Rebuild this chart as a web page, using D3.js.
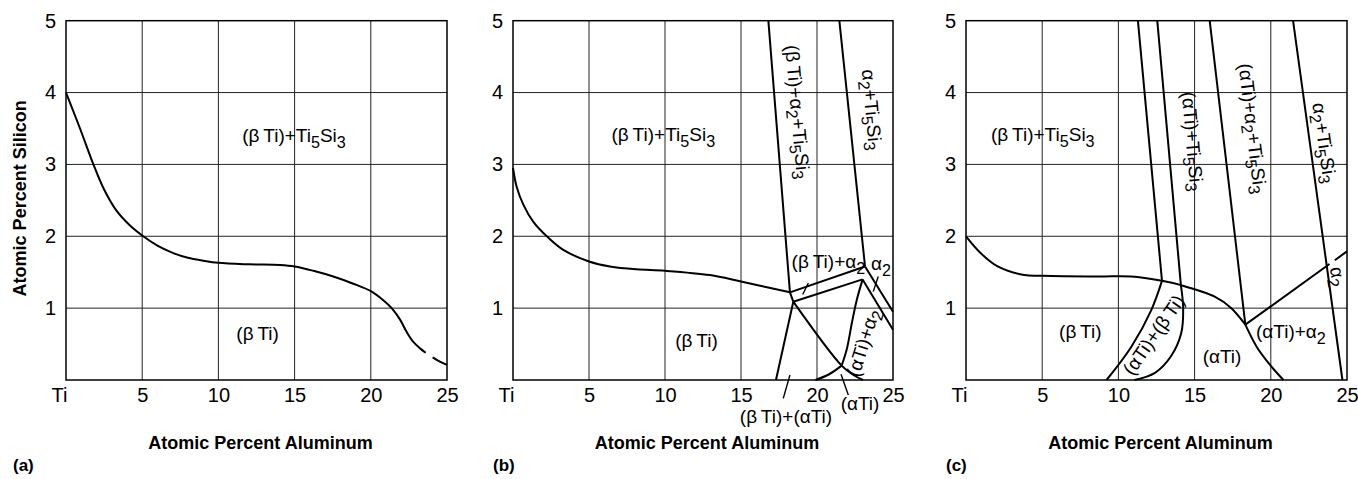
<!DOCTYPE html>
<html>
<head>
<meta charset="utf-8">
<script src="https://cdn.jsdelivr.net/npm/d3@7"></script>
<style>
  body { margin: 0; background: #fff; }
  svg { display: block; font-family: "Liberation Sans", Arial, sans-serif; }
</style>
</head>
<body>
<div id="chart"></div>
<script>
// axis values
const xTicks = [0, 5, 10, 15, 20, 25];
const xTickLabels = ["Ti", "5", "10", "15", "20", "25"];
const yTicks = [1, 2, 3, 4, 5];
const xTitle = "Atomic Percent Aluminum";
const yTitle = "Atomic Percent Silicon";

// phase boundaries, [Al at.%, Si at.%]
const panelA_lines = [
  { smooth: true, pts: [[0, 4.0], [0.92, 3.5], [1.8, 3.0], [2.5, 2.65], [3.3, 2.36], [4.2, 2.15], [5.07, 2.0],
    [6, 1.87], [7, 1.77], [8, 1.70], [9, 1.66], [10, 1.63], [12, 1.61], [14.04, 1.60], [15, 1.58],
    [16.23, 1.52], [17.54, 1.44], [18.85, 1.34], [20.06, 1.23], [20.82, 1.11], [21.37, 1.0], [21.92, 0.84],
    [22.35, 0.67], [22.79, 0.53], [23.23, 0.44], [23.6, 0.38]] },
  { smooth: true, pts: [[24.06, 0.316], [24.5, 0.26], [25, 0.21]] }
];

const panelB_lines = [
  { smooth: true, pts: [[0, 2.95], [0.24, 2.69], [0.68, 2.44], [1.34, 2.20], [2.22, 2.0], [3.31, 1.81], [5.0, 1.65],
    [6.38, 1.58], [8.14, 1.54], [10, 1.52], [12.96, 1.46], [15, 1.37], [18.22, 1.22]] },
  { pts: [[16.8, 5], [18.22, 1.22], [18.44, 1.09]] },
  { pts: [[21.47, 5], [23.16, 1.58]] },
  { pts: [[18.22, 1.22], [23.16, 1.58]] },
  { pts: [[18.44, 1.09], [23.0, 1.40]] },
  { pts: [[23.16, 1.58], [25, 0.95]] },
  { pts: [[23.0, 1.40], [25, 0.70]] },
  { smooth: true, pts: [[23.0, 1.40], [22.6, 1.1], [22.3, 0.8], [21.95, 0.42], [21.62, 0.2]] },
  { smooth: true, pts: [[18.44, 1.09], [21.62, 0.2], [22.4, 0.07], [23.03, 0]] },
  { pts: [[18.44, 1.09], [17.3, 0]] },
  { smooth: true, pts: [[19.9, 0], [20.8, 0.08], [21.62, 0.2]] }
];
const panelB_leaders = [
  [[17.78, -0.255], [18.22, 0.07]],
  [[22.06, -0.21], [21.58, 0.08]],
  [[19.43, 1.35], [19.06, 1.19]],
  [[24.03, 1.44], [23.7, 1.23]]
];

const panelC_lines = [
  { smooth: true, pts: [[0, 2.0], [0.99, 1.76], [2.08, 1.58], [3.83, 1.46], [4.97, 1.45], [8.65, 1.44], [10.84, 1.44],
    [12.86, 1.38], [14.1, 1.32], [16.32, 1.16], [17.41, 1.0], [18.33, 0.77]] },
  { pts: [[18.33, 0.77], [23.85, 1.614]] },
  { pts: [[24.2, 1.667], [25, 1.79]] },
  { smooth: true, pts: [[18.33, 0.77], [19.08, 0.46], [19.95, 0.21], [20.83, 0]] },
  { pts: [[11.28, 5], [12.86, 1.38]] },
  { pts: [[12.55, 5], [14.1, 1.32]] },
  { smooth: true, pts: [[14.1, 1.32], [14.25, 1.0], [14.12, 0.65], [13.45, 0.33], [12.4, 0.1], [11.05, 0]] },
  { smooth: true, pts: [[9.22, 0], [10.84, 0.46], [12.15, 0.97], [12.86, 1.38]] },
  { pts: [[15.99, 5], [18.33, 0.77]] },
  { pts: [[21.46, 5], [24.7, 0]] }
];

// phase field names ("_x" = subscript)
const panelA_labels = [
  { text: "(β\u2009Ti)+Ti_5Si_3", x: 14.96, y: 3.31 },
  { text: "(β\u2009Ti)", x: 12.57, y: 0.56 }
];
const panelB_labels = [
  { text: "(β\u2009Ti)+Ti_5Si_3", x: 9.89, y: 3.32 },
  { text: "(β\u2009Ti)", x: 12.07, y: 0.46 },
  { text: "(β\u2009Ti)+α_2+Ti_5Si_3", x: 18.75, y: 3.73, angle: 85 },
  { text: "α_2+Ti_5Si_3", x: 23.64, y: 3.76, angle: 85 },
  { text: "(β\u2009Ti)+α_2", x: 20.75, y: 1.56 },
  { text: "α_2", x: 24.21, y: 1.53 },
  { text: "(αTi)+α_2", x: 23.0, y: 0.52, angle: -72.5 },
  { text: "(β\u2009Ti)+(αTi)", x: 17.96, y: -0.6 },
  { text: "(αTi)", x: 22.83, y: -0.42 }
];
const panelC_labels = [
  { text: "(β\u2009Ti)+Ti_5Si_3", x: 5.04, y: 3.32 },
  { text: "(β\u2009Ti)", x: 7.5, y: 0.585 },
  { text: "(αTi)", x: 16.8, y: 0.24 },
  { text: "(αTi)+α_2", x: 21.32, y: 0.58 },
  { text: "(αTi)+(β\u2009Ti)", x: 12.29, y: 0.63, angle: -55 },
  { text: "(αTi)+Ti_5Si_3", x: 14.9, y: 3.32, angle: 85 },
  { text: "(αTi)+α_2+Ti_5Si_3", x: 18.84, y: 3.5, angle: 83.3 },
  { text: "α_2+Ti_5Si_3", x: 23.55, y: 3.3, angle: 82 },
  { text: "α_2", x: 24.44, y: 1.44, angle: 80 }
];

const width = 1358, height = 479;
const plotTop = 20.7, plotBottom = 380;

const panels = [
  { tag: "(a)", left: 66, right: 447, tagX: 13, lines: panelA_lines, labels: panelA_labels, leaders: [], yTitle: true },
  { tag: "(b)", left: 513, right: 893, tagX: 493, lines: panelB_lines, labels: panelB_labels, leaders: panelB_leaders },
  { tag: "(c)", left: 966, right: 1347, tagX: 946, lines: panelC_lines, labels: panelC_labels, leaders: [] }
];

const svg = d3.select("#chart").append("svg")
  .attr("width", width)
  .attr("height", height)
  .attr("viewBox", `0 0 ${width} ${height}`);

svg.append("rect").attr("width", width).attr("height", height).attr("fill", "#fff");

function addLabel(g, x, y, lab) {
  const fs = 19, sub = fs * 0.3;
  const t = g.append("text")
    .attr("transform", `translate(${x(lab.x)},${y(lab.y)}) rotate(${lab.angle || 0})`)
    .attr("text-anchor", "middle")
    .attr("font-size", fs)
    .attr("fill", "#000");
  if (lab.angle) t.attr("dominant-baseline", "central");
  let prev = 0;
  lab.text.split(/(_.)/).forEach(p => {
    if (!p) return;
    const isSub = p[0] === "_";
    const shift = isSub ? sub : 0;
    t.append("tspan")
      .attr("dy", shift - prev)
      .attr("font-size", isSub ? fs * 0.85 : null)
      .text(isSub ? p[1] : p);
    prev = shift;
  });
}

panels.forEach(p => {
  const x = d3.scaleLinear().domain([0, 25]).range([p.left, p.right]);
  const y = d3.scaleLinear().domain([0, 5]).range([plotBottom, plotTop]);
  const g = svg.append("g");

  // grid
  g.selectAll(".vgrid").data(xTicks.slice(1, -1)).join("line")
    .attr("x1", d => x(d)).attr("x2", d => x(d))
    .attr("y1", y(0)).attr("y2", y(5))
    .attr("stroke", "#222").attr("stroke-width", 1);
  g.selectAll(".hgrid").data(yTicks.slice(0, -1)).join("line")
    .attr("x1", x(0)).attr("x2", x(25))
    .attr("y1", d => y(d)).attr("y2", d => y(d))
    .attr("stroke", "#222").attr("stroke-width", 1);

  g.append("rect")
    .attr("x", x(0)).attr("y", y(5))
    .attr("width", x(25) - x(0)).attr("height", y(0) - y(5))
    .attr("fill", "none").attr("stroke", "#000").attr("stroke-width", 1.5);

  // axes
  const xa = g.append("g")
    .attr("transform", `translate(0,${plotBottom})`)
    .call(d3.axisBottom(x).tickValues(xTicks).tickFormat((d, i) => xTickLabels[i]).tickSize(0).tickPadding(8))
    .attr("font-size", 20).attr("font-family", null);
  xa.select(".domain").remove();
  xa.selectAll(".tick text").filter(d => d === 0).attr("text-anchor", "end").attr("x", 1);

  const ya = g.append("g")
    .attr("transform", `translate(${p.left},0)`)
    .call(d3.axisLeft(y).tickValues(yTicks).tickFormat(d3.format("d")).tickSize(0).tickPadding(10))
    .attr("font-size", 20).attr("font-family", null);
  ya.select(".domain").remove();

  // boundaries
  const line = d3.line().x(d => x(d[0])).y(d => y(d[1]));
  const smoothLine = d3.line().x(d => x(d[0])).y(d => y(d[1])).curve(d3.curveCatmullRom.alpha(0.5));
  g.selectAll(".bound").data(p.lines).join("path")
    .attr("d", d => (d.smooth ? smoothLine : line)(d.pts))
    .attr("fill", "none").attr("stroke", "#000").attr("stroke-width", 2)
    .attr("stroke-linejoin", "round");

  g.selectAll(".leader").data(p.leaders).join("path")
    .attr("d", line)
    .attr("fill", "none").attr("stroke", "#000").attr("stroke-width", 1.4);

  p.labels.forEach(l => addLabel(g, x, y, l));

  // titles
  g.append("text")
    .attr("x", (p.left + p.right) / 2 + 4).attr("y", 449)
    .attr("text-anchor", "middle")
    .attr("font-size", 18).attr("font-weight", "bold")
    .text(xTitle);

  g.append("text")
    .attr("x", p.tagX).attr("y", 471)
    .attr("font-size", 17).attr("font-weight", "bold")
    .text(p.tag);

  if (p.yTitle) {
    g.append("text")
      .attr("transform", `translate(20,${(plotTop + plotBottom) / 2 - 2}) rotate(-90)`)
      .attr("text-anchor", "middle")
      .attr("dominant-baseline", "central")
      .attr("font-size", 18).attr("font-weight", "bold")
      .text(yTitle);
  }
});
</script>
</body>
</html>
